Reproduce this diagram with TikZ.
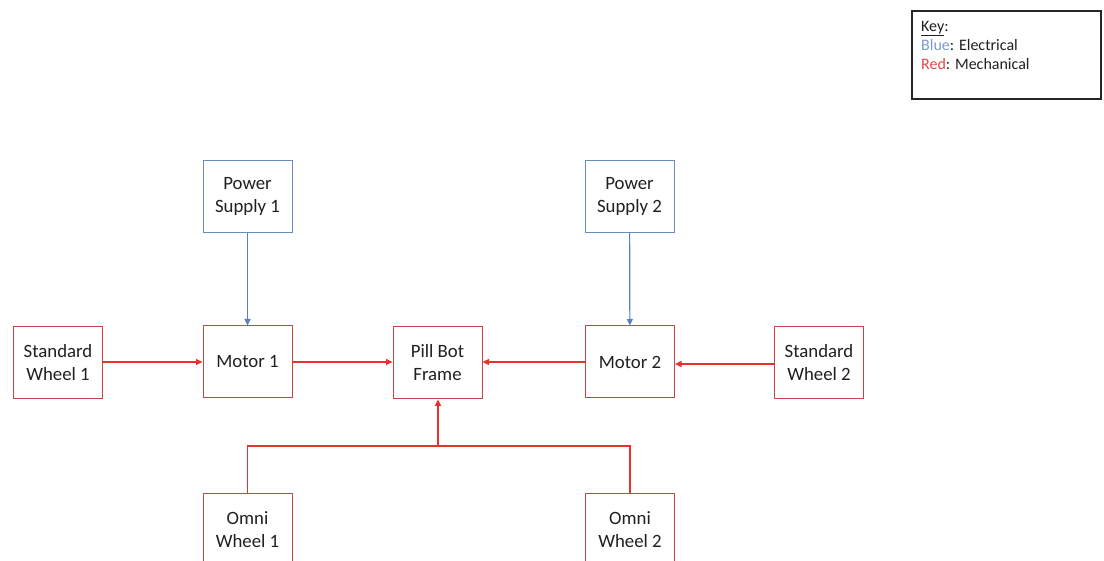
\documentclass[tikz,border=0pt]{standalone}
\usepackage{fontspec}
\setmainfont{Carlito}
\usetikzlibrary{arrows.meta}
\definecolor{boxred}{HTML}{C8453F}
\definecolor{linered}{HTML}{E8302C}
\definecolor{boxblue}{HTML}{6A8CC0}
\definecolor{lineblue}{HTML}{5B80C0}
\definecolor{keyblue}{HTML}{7C9CCC}
\definecolor{keyred}{HTML}{E04848}
\definecolor{txt}{HTML}{202020}
\tikzset{
  blk/.style={draw, line width=1pt, minimum width=89pt, minimum height=72pt, inner sep=0pt,
    align=center, text=txt, font=\fontsize{18.8}{23}\selectfont},
  redblk/.style={blk, draw=boxred},
  blueblk/.style={blk, draw=boxblue},
  mech/.style={draw=linered, line width=1.3pt, -{Triangle[length=6.5pt,width=6pt]}},
  mechline/.style={draw=linered, line width=1.3pt},
  elec/.style={draw=lineblue, line width=1.2pt, -{Triangle[length=6.5pt,width=6pt]}},
}
\begin{document}
\begin{tikzpicture}[x=1pt,y=-1pt]
\clip (0,0) rectangle (1104,561);
\fill[white] (0,0) rectangle (1104,561);
% key
\node[draw=black!85, line width=1.3pt, minimum width=189pt, minimum height=88pt, inner sep=0pt] (key) at (1006.5,55) {};
\node[anchor=north west, align=left, inner sep=0pt, text=txt, font=\fontsize{16}{19}\selectfont] (keytext) at (921,21)
  {\underline{Key}:\\ \textcolor{keyblue}{Blue}: Electrical\\ \textcolor{keyred}{Red}: Mechanical};
% blocks
\node[blueblk] (ps1) at (247.5,196.5) {Power\\Supply 1};
\node[blueblk] (ps2) at (629.5,196.5) {Power\\Supply 2};
\node[redblk] (sw1) at (58,362.5) {Standard\\Wheel 1};
\node[redblk] (m1) at (247.5,362) {Motor 1};
\node[redblk] (pb) at (437.5,363) {Pill Bot\\Frame};
\node[redblk] (m2) at (630,362) {Motor 2};
\node[redblk] (sw2) at (819,363) {Standard\\Wheel 2};
\node[redblk] (ow1) at (247.5,529.5) {Omni\\Wheel 1};
\node[redblk] (ow2) at (630,529.5) {Omni\\Wheel 2};
\coordinate (bus) at (438,446);
% connectors
\draw[elec] (ps1) -- (m1);
\draw[elec] (ps2) -- (m2);
\draw[mech] (sw1.east |- 0,362) -- (m1.west |- 0,362);
\draw[mech] (m1.east |- 0,362) -- (pb.west |- 0,362);
\draw[mech] (m2.west |- 0,362) -- (pb.east |- 0,362);
\draw[mech] (sw2.west |- 0,364) -- (m2.east |- 0,364);
\draw[mechline] (ow1.north) |- (bus) -| (ow2.north);
\draw[mech, line width=2.2pt] (bus) -- (pb.south -| bus);
\end{tikzpicture}
\end{document}
